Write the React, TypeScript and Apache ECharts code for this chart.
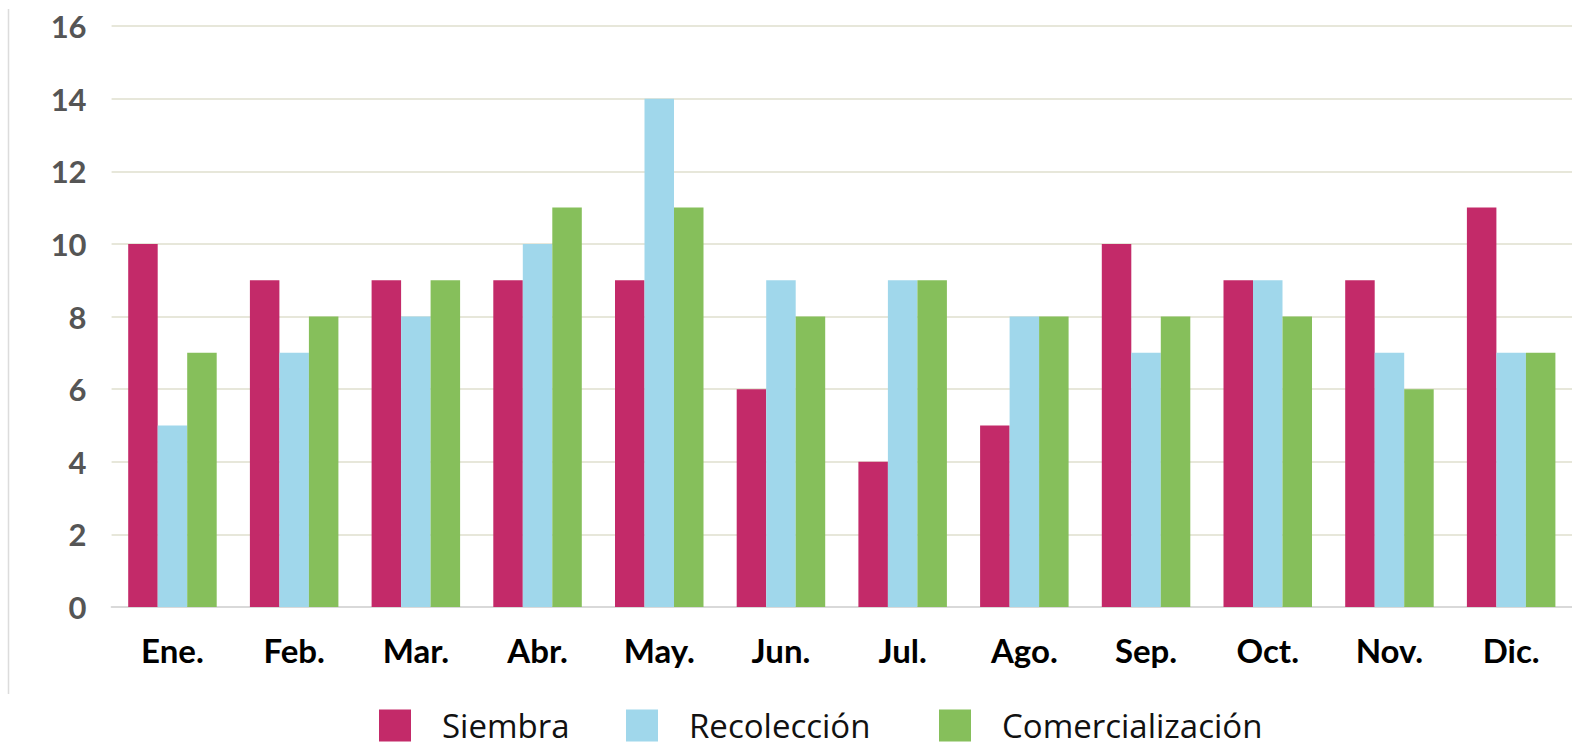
import React, { useEffect, useRef } from "react";
import * as echarts from "echarts";

const months = ["Ene.", "Feb.", "Mar.", "Abr.", "May.", "Jun.", "Jul.", "Ago.", "Sep.", "Oct.", "Nov.", "Dic."];
const siembra = [10, 9, 9, 9, 9, 6, 4, 5, 10, 9, 9, 11];
const recoleccion = [5, 7, 8, 10, 14, 9, 9, 8, 7, 9, 7, 7];
const comercializacion = [7, 8, 9, 11, 11, 8, 9, 8, 8, 8, 6, 7];
const seriesNames = ["Siembra", "Recolección", "Comercialización"];
const colors = ["#c32a69", "#a0d7eb", "#86bf5b"];
const legendLefts = [379, 626, 939];

export default function App() {
  const ref = useRef<HTMLDivElement>(null);
  useEffect(() => {
    if (!ref.current) return;
    const chart = echarts.init(ref.current, undefined, { renderer: "svg" });
    const values = [siembra, recoleccion, comercializacion];
    chart.setOption({
      animation: false,
      backgroundColor: "#ffffff",
      grid: { left: 111.6, top: 26, width: 1469.4, bottom: 138, containLabel: false },
      legend: seriesNames.map((name, i) => ({
        left: legendLefts[i],
        top: 709,
        padding: 0,
        itemWidth: 32,
        itemHeight: 32,
        icon: "rect",
        textStyle: {
          fontFamily: "'Open Sans', sans-serif",
          fontSize: 33,
          color: "#111",
          padding: [0, 0, 0, 26],
        },
        data: [name],
      })),
      xAxis: {
        type: "category",
        data: months,
        axisLine: { show: true, lineStyle: { color: "#d9d9d9", width: 2 } },
        axisTick: { show: false },
        axisLabel: {
          fontFamily: "Lato, sans-serif",
          fontWeight: "bold",
          fontSize: 33,
          color: "#000",
          margin: 26,
        },
      },
      yAxis: {
        type: "value",
        min: 0,
        max: 16,
        interval: 2,
        axisLine: { show: false },
        axisTick: { show: false },
        splitLine: { lineStyle: { color: "#e7e7da", width: 2 } },
        axisLabel: {
          fontFamily: "Lato, sans-serif",
          fontWeight: "bold",
          fontSize: 31,
          color: "#555",
          margin: 25,
        },
      },
      graphic: [
        {
          type: "line",
          shape: { x1: 8.5, y1: 9, x2: 8.5, y2: 694 },
          style: { stroke: "#dcdcdc", lineWidth: 1.5 },
        },
      ],
      series: seriesNames.map((name, i) => ({
        name,
        type: "bar",
        data: values[i],
        barWidth: 29.5,
        barGap: "0%",
        itemStyle: { color: colors[i] },
      })),
    });
    return () => chart.dispose();
  }, []);
  return <div ref={ref} style={{ position: "fixed", left: 0, top: 0, width: 1572, height: 745 }} />;
}
